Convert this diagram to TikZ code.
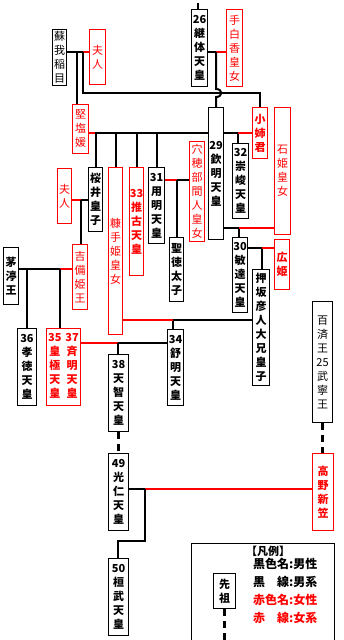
\documentclass[tikz,border=0pt]{standalone}
\usepackage{fontspec}
\setmainfont{Noto Sans CJK JP}
\begin{document}
\begin{tikzpicture}[x=1pt, y=-1pt,
  box/.style={draw, line width=1pt, anchor=north west, inner sep=0pt, align=center, font=\fontsize{11}{14}\selectfont\bfseries},
  male/.style={box, draw=black, text=black},
  female/.style={box, draw=red, text=red, font=\fontsize{11}{14}\selectfont},
  heavy/.style={font=\fontsize{11}{14}\selectfont\bfseries},
  lite/.style={font=\fontsize{11}{14}\selectfont},
  mline/.style={draw=black, line width=2pt},
  fline/.style={draw=red, line width=2pt},
  dline/.style={draw=black, line width=2.5pt, dash pattern=on 7pt off 5pt},
  legend/.style={anchor=west, inner sep=0pt, font=\fontsize{12}{14}\selectfont\bfseries}]
\useasboundingbox (0,0) rectangle (344,640);
% ancestors
\node[male, lite, minimum width=14, minimum height=56] (inaname) at (52,29) {蘇\\我\\稲\\目};
\node[female, minimum width=16, minimum height=55] (fujin1) at (89,29) {夫\\人};
\node[male, minimum width=16, minimum height=77] (keitai) at (191,9) {26\\継\\体\\天\\皇};
\node[female, minimum width=16, minimum height=77] (tashiraka) at (226,9) {手\\白\\香\\皇\\女};
% wives of kinmei
\node[female, minimum width=16, minimum height=49] (kitashi) at (72,104) {堅\\塩\\媛};
\node[male, minimum width=15, minimum height=132] (kinmei) at (208,107) {29\\欽\\明\\天\\皇};
\node[female, heavy, minimum width=15, minimum height=51] (oane) at (252,107) {小\\姉\\君};
\node[female, minimum width=16, minimum height=127] (ishihime) at (274,107) {石\\姫\\皇\\女};
% children
\node[male, minimum width=14, minimum height=64] (sakurai) at (88,167) {桜\\井\\皇\\子};
\node[female, minimum width=14, minimum height=167] (nukate) at (108,167) {糠\\手\\姫\\皇\\女};
\node[female, heavy, minimum width=14, minimum height=108] (suiko) at (129,167) {33\\推\\古\\天\\皇};
\node[male, minimum width=16, minimum height=76] (yomei) at (148,167) {31\\用\\明\\天\\皇};
\node[female, minimum width=15, minimum height=100] (anahobe) at (189,141) {穴\\穂\\部\\間\\人\\皇\\女};
\node[male, minimum width=16, minimum height=75] (sushun) at (232,143) {32\\崇\\峻\\天\\皇};
\node[female, minimum width=14, minimum height=55] (fujin2) at (57,168) {夫\\人};
\node[female, minimum width=15, minimum height=65] (kibi) at (72,244) {吉\\備\\姫\\王};
\node[male, minimum width=15, minimum height=57] (chinu) at (3,247) {茅\\渟\\王};
\node[male, minimum width=14, minimum height=64] (shotoku) at (169,237) {聖\\徳\\太\\子};
\node[male, minimum width=15, minimum height=75] (bidatsu) at (232,237) {30\\敏\\達\\天\\皇};
\node[female, heavy, minimum width=15, minimum height=50] (hirohime) at (274,239) {広\\姫};
\node[male, minimum width=17, minimum height=116] (oshisaka) at (252,269) {押\\坂\\彦\\人\\大\\兄\\皇\\子};
% next generation
\node[male, minimum width=19, minimum height=77] (kotoku) at (17,328) {36\\孝\\徳\\天\\皇};
\node[female, heavy, minimum width=34, minimum height=77] (kogyoku) at (46,328) {\begin{tabular}{@{}c@{\hspace{4pt}}c@{}}35&37\\皇&斉\\極&明\\天&天\\皇&皇\end{tabular}};
\node[male, minimum width=16, minimum height=76] (jomei) at (167,329) {34\\舒\\明\\天\\皇};
\node[male, minimum width=20, minimum height=77] (tenji) at (108,354) {38\\天\\智\\天\\皇};
\node[male, minimum width=20, minimum height=77] (konin) at (108,453) {49\\光\\仁\\天\\皇};
\node[male, minimum width=20, minimum height=77] (kanmu) at (108,558) {50\\桓\\武\\天\\皇};
\node[male, lite, minimum width=20, minimum height=121] (kudara) at (312,301) {百\\済\\王\\25\\武\\寧\\王};
\node[female, heavy, minimum width=21, minimum height=77] (takano) at (312,453) {高\\野\\新\\笠};
% legend
\draw[line width=1pt] (191,640) |- (334,543) -- (334,640);
\node[anchor=center, inner sep=0pt, font=\fontsize{11}{14}\selectfont\bfseries] (legtitle) at (268,551) {【凡例】};
\node[legend] (leg1) at (253,564) {黒色名:男性};
\node[legend] (leg2) at (253,582) {黒\hspace{12pt}線:男系};
\node[legend, text=red] (leg3) at (253,600) {赤色名:女性};
\node[legend, text=red] (leg4) at (253,618) {赤\hspace{12pt}線:女系};
\node[male, minimum width=22, minimum height=35] (senso) at (213,573) {先\\祖};
\coordinate (sensoEnd) at (222,642);
\draw[dline] (senso.south) -- (senso.south |- sensoEnd);
% soga
\coordinate (inaJ) at (83,52);
\coordinate (inaK) at (77,52);
\coordinate (oaneT) at (260,93);
\draw[mline] (inaname.east |- inaJ) -- (inaJ);
\draw[fline] (inaJ) -- (fujin1.west |- inaJ);
\draw[mline] (inaK) -- (inaK |- kitashi.north);
\draw[mline] (inaJ) |- (oaneT) -- (oaneT |- oane.north);
% keitai
\coordinate (keiTop) at (198,3);
\coordinate (keiJ) at (216,52);
\draw[mline] (keiTop) -- (keiTop |- keitai.north);
\draw[mline] (keitai.east |- keiJ) -- (keiJ);
\draw[fline] (keiJ) -- (tashiraka.west |- keiJ);
\draw[mline] (keiJ) -- ++(0,37) .. controls +(7,0) and +(7,0) .. ++(0,8) -- (keiJ |- kinmei.north);
% kinmei
\coordinate (kitJ) at (95,133);
\draw[fline] (kitashi.east |- kitJ) -- (kitJ);
\draw[mline] (kitJ) -- (kinmei.west |- kitJ);
\foreach \n in {sakurai,nukate,suiko,yomei}
  \draw[mline] (\n.north |- kitJ) -- (\n.north);
\coordinate (oaneJ) at (238,133);
\draw[mline] (kinmei.east |- oaneJ) -- (oaneJ) -- (oaneJ |- sushun.north);
\draw[fline] (oaneJ) -- (oane.west |- oaneJ);
\coordinate (ishJ) at (239,228);
\draw[mline] (kinmei.east |- ishJ) -- (ishJ) -- (ishJ |- bidatsu.north);
\draw[fline] (ishJ) -- (ishihime.west |- ishJ);
% yomei
\coordinate (yomJ) at (177,180);
\draw[fline] (yomei.east |- yomJ) -- (yomJ);
\draw[mline] (yomJ) -- (anahobe.west |- yomJ);
\draw[mline] (yomJ) -- (yomJ |- shotoku.north);
% bidatsu
\coordinate (hiroJ) at (262,248);
\draw[mline] (bidatsu.east |- hiroJ) -- (hiroJ) -- (hiroJ |- oshisaka.north);
\draw[fline] (hiroJ) -- (hirohime.west |- hiroJ);
% oshisaka
\coordinate (nukJ) at (173,320);
\draw[mline] (oshisaka.west |- nukJ) -- (nukJ) -- (nukJ |- jomei.north);
\draw[fline] (nukJ) -- (nukate.east |- nukJ);
% sakurai
\coordinate (sakJ) at (81,200);
\draw[fline] (fujin2.east |- sakJ) -- (sakJ);
\draw[mline] (sakJ) -- (sakurai.west |- sakJ);
\draw[mline] (sakJ) -- (sakJ |- kibi.north);
% chinu
\coordinate (chiJ) at (60,269);
\coordinate (chiK) at (27,269);
\draw[mline] (chinu.east |- chiJ) -- (chiJ);
\draw[fline] (chiJ) -- (kibi.west |- chiJ);
\draw[mline] (chiK) -- (chiK |- kotoku.north);
\draw[mline] (chiJ) -- (chiJ |- kogyoku.north);
% jomei
\coordinate (kogJ) at (118,343);
\draw[fline] (kogyoku.east |- kogJ) -- (kogJ);
\draw[mline] (kogJ) -- (jomei.west |- kogJ);
\draw[mline] (kogJ) -- (kogJ |- tenji.north);
\draw[dline] (tenji.south) -- (konin.north);
% konin
\coordinate (konJ) at (145,489);
\coordinate (kanJ) at (118,541);
\draw[mline] (konin.east |- konJ) -- (konJ);
\draw[fline] (konJ) -- (takano.west |- konJ);
\draw[mline] (konJ) |- (kanJ) -- (kanJ |- kanmu.north);
\draw[dline] (kudara.south) -- (kudara.south |- takano.north);
\end{tikzpicture}
\end{document}
